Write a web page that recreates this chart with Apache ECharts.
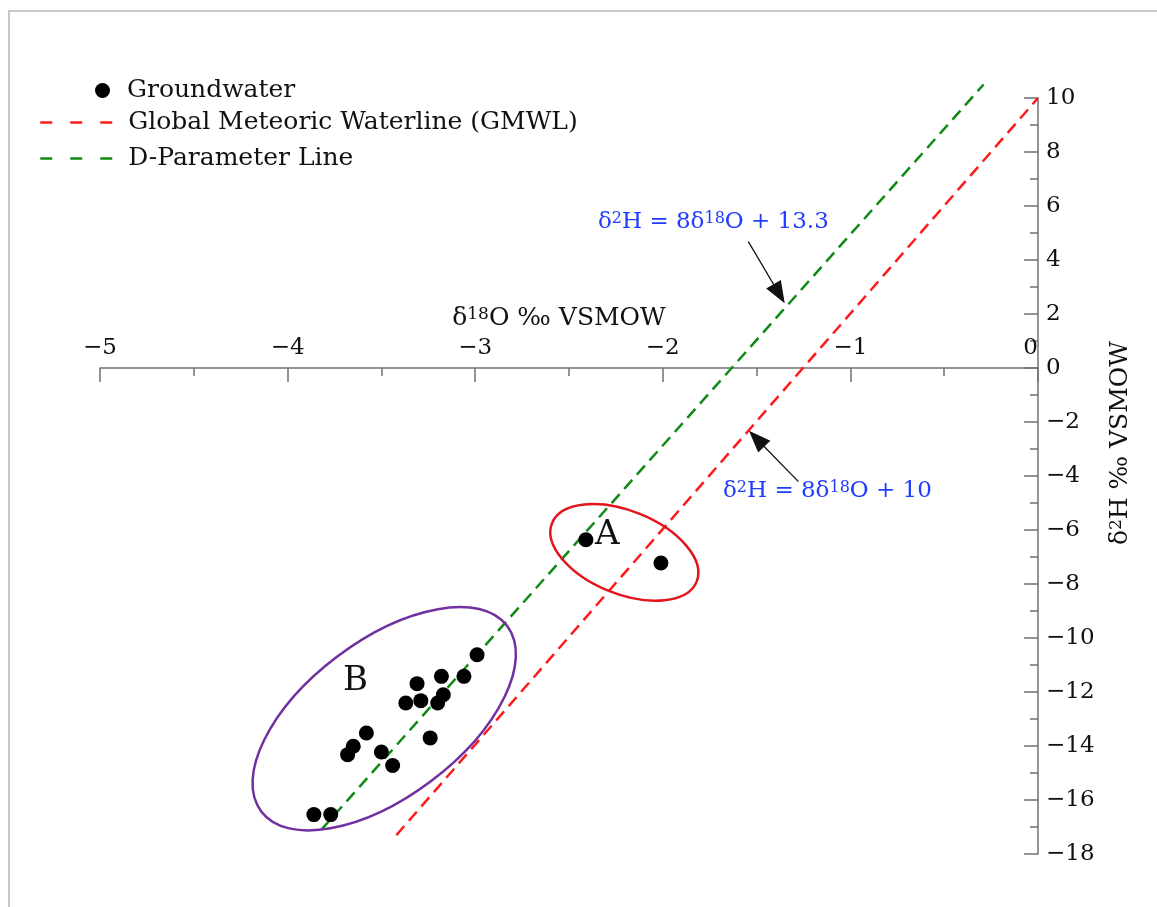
<!DOCTYPE html>
<html>
<head>
<meta charset="utf-8">
<script src="https://cdn.jsdelivr.net/npm/echarts@6/dist/echarts.min.js"></script>
<style>
  html, body { margin: 0; padding: 0; background: #fff; }
  #chart { width: 1157px; height: 907px; }
</style>
</head>
<body>
<div id="chart"></div>
<script>
// groundwater samples [d18O, d2H]
var groundA = [[-2.41, -6.36], [-2.01, -7.22]];
var groundB = [
  [-2.99, -10.62], [-3.06, -11.42], [-3.18, -11.42], [-3.31, -11.69],
  [-3.37, -12.41], [-3.29, -12.32], [-3.17, -12.10], [-3.20, -12.41],
  [-3.24, -13.70], [-3.58, -13.52], [-3.65, -14.01], [-3.68, -14.32],
  [-3.50, -14.22], [-3.44, -14.72], [-3.86, -16.54], [-3.77, -16.54]
];
// line ends as drawn
var gmwl = [[-3.42, -17.3], [0, 10]];
var dParam = [[-3.82, -17.1], [-0.29, 10.5]];
// arrows pointing at the lines
var arrowD = [[-1.544, 4.68], [-1.38, 2.75]];
var arrowG = [[-1.277, -4.21], [-1.50, -2.62]];
// group ellipse centres
var groupCentres = [[-2.205, -6.83], [-3.485, -12.99]];
var groupNames = ['A', 'B'];

var xTicks = { min: -5, max: 0, step: 1 };
var yTicks = { min: -18, max: 10, step: 2 };

var serif = 'DejaVu Serif';
// ellipse look, px (by group index)
var ellipseLook = [
  { rx: 78, ry: 41.5, rot: -22, color: '#e3141b' },
  { rx: 154, ry: 78, rot: 37, color: '#7030a0' }
];

var chart = echarts.init(document.getElementById('chart'));

function minus(v) { return String(v).replace('-', '\u2212'); }

var axisGray = '#707070';
var gridTop = 98, gridBottom = 53;
// x axis sits at d2H = 0
var xAxisDrop = (907 - gridTop - gridBottom) * yTicks.max / (yTicks.max - yTicks.min);

var option = {
  backgroundColor: '#fff',
  animation: false,
  grid: { left: 100, right: 119, top: gridTop, bottom: gridBottom },
  legend: [
    {
      data: ['Groundwater'],
      left: 90, top: 73,
      itemWidth: 15, itemHeight: 15,
      textStyle: { fontFamily: serif, fontSize: 25, color: '#111', lineHeight: 25, padding: [0, 0, 0, 12] }
    },
    {
      data: ['Global Meteoric Waterline (GMWL)', 'D-Parameter Line'],
      orient: 'vertical',
      left: 34, top: 105,
      itemWidth: 74, itemHeight: 25, itemGap: 11,
      itemStyle: { color: 'rgba(0,0,0,0)', borderWidth: 0, opacity: 0 },
      lineStyle: { type: [12, 18], width: 2.5 },
      textStyle: { fontFamily: serif, fontSize: 25, color: '#111', lineHeight: 25, padding: [0, 0, 0, 9] }
    }
  ],
  xAxis: {
    type: 'value',
    position: 'top',
    offset: -xAxisDrop,
    min: xTicks.min, max: xTicks.max, interval: xTicks.step,
    name: '\u03b4{sup|18}O \u2030 VSMOW',
    nameLocation: 'middle',
    nameGap: 37,
    nameTextStyle: {
      fontFamily: serif, fontSize: 25, color: '#111', padding: [0, 20, 0, 0],
      rich: { sup: { fontFamily: serif, fontSize: 17, verticalAlign: 'top', color: '#111' } }
    },
    axisLine: { onZero: false, lineStyle: { color: axisGray, width: 1.5 } },
    axisTick: { inside: true, length: 14, lineStyle: { color: axisGray, width: 1.5 } },
    minorTick: { show: true, splitNumber: 2, length: 8, lineStyle: { color: axisGray, width: 1.5 } },
    splitLine: { show: false },
    axisLabel: { fontFamily: serif, fontSize: 23, color: '#111', margin: 8, formatter: minus, alignMaxLabel: 'right' }
  },
  yAxis: {
    type: 'value',
    position: 'right',
    min: yTicks.min, max: yTicks.max, interval: yTicks.step,
    name: '\u03b4{sup|2}H \u2030 VSMOW',
    nameLocation: 'middle',
    nameRotate: 90,
    nameGap: 70,
    nameTextStyle: {
      fontFamily: serif, fontSize: 25, color: '#111', padding: [0, 0, 0, 66],
      rich: { sup: { fontFamily: serif, fontSize: 17, verticalAlign: 'top', color: '#111' } }
    },
    axisLine: { onZero: false, lineStyle: { color: axisGray, width: 1.5 } },
    axisTick: { inside: true, length: 14, lineStyle: { color: axisGray, width: 1.5 } },
    minorTick: { show: true, splitNumber: 2, length: 8, lineStyle: { color: axisGray, width: 1.5 } },
    splitLine: { show: false },
    axisLabel: { fontFamily: serif, fontSize: 23, color: '#111', margin: 8, formatter: minus }
  },
  series: [
    {
      name: 'Global Meteoric Waterline (GMWL)',
      type: 'line',
      data: gmwl,
      symbol: 'none',
      clip: false,
      z: 2,
      lineStyle: { color: '#ff1a1a', width: 2.5, type: [12, 7] },
      itemStyle: { color: '#ff1a1a' }
    },
    {
      name: 'D-Parameter Line',
      type: 'line',
      data: dParam,
      symbol: 'none',
      clip: false,
      z: 2,
      lineStyle: { color: '#0f8a12', width: 2.5, type: [12, 7] },
      itemStyle: { color: '#0f8a12' },
      markLine: {
        silent: true,
        symbol: ['none', 'triangle'],
        symbolSize: [17, 22],
        label: { show: false },
        lineStyle: { color: '#111', width: 1.3, type: 'solid' },
        data: [
          [{ coord: arrowD[0] }, { coord: arrowD[1] }],
          [{ coord: arrowG[0] }, { coord: arrowG[1] }]
        ]
      }
    },
    {
      name: 'groups',
      type: 'custom',
      data: groupCentres,
      z: 3,
      renderItem: function (params, api) {
        var p = api.coord([api.value(0), api.value(1)]);
        var e = ellipseLook[params.dataIndex];
        return {
          type: 'ellipse',
          x: p[0], y: p[1],
          rotation: e.rot * Math.PI / 180,
          shape: { cx: 0, cy: 0, rx: e.rx, ry: e.ry },
          style: { fill: 'none', stroke: e.color, lineWidth: 2.5 }
        };
      }
    },
    {
      name: 'Groundwater',
      type: 'scatter',
      data: groundA.concat(groundB),
      symbol: 'circle',
      symbolSize: 15,
      z: 5,
      itemStyle: { color: '#000', opacity: 1 }
    }
  ],
  graphic: [
    {
      type: 'polyline', silent: true,
      shape: { points: [[9, 907], [9, 11], [1157, 11]] },
      style: { stroke: '#c8c8c8', lineWidth: 2, fill: 'none' }
    },
    {
      type: 'text', left: 595, top: 518,
      style: { text: groupNames[0], font: '34px "' + serif + '"', fill: '#111' }
    },
    {
      type: 'text', left: 343, top: 664,
      style: { text: groupNames[1], font: '34px "' + serif + '"', fill: '#111' }
    },
    {
      type: 'text', left: 598, top: 211,
      style: {
        text: '\u03b4{sup|2}H = 8\u03b4{sup|18}O + 13.3',
        font: '23px "' + serif + '"', fill: '#1f3cff',
        rich: { sup: { fontFamily: serif, fontSize: 16, verticalAlign: 'top', fill: '#1f3cff' } }
      }
    },
    {
      type: 'text', left: 723, top: 480,
      style: {
        text: '\u03b4{sup|2}H = 8\u03b4{sup|18}O + 10',
        font: '23px "' + serif + '"', fill: '#1f3cff',
        rich: { sup: { fontFamily: serif, fontSize: 16, verticalAlign: 'top', fill: '#1f3cff' } }
      }
    }
  ]
};

chart.setOption(option);
</script>
</body>
</html>
